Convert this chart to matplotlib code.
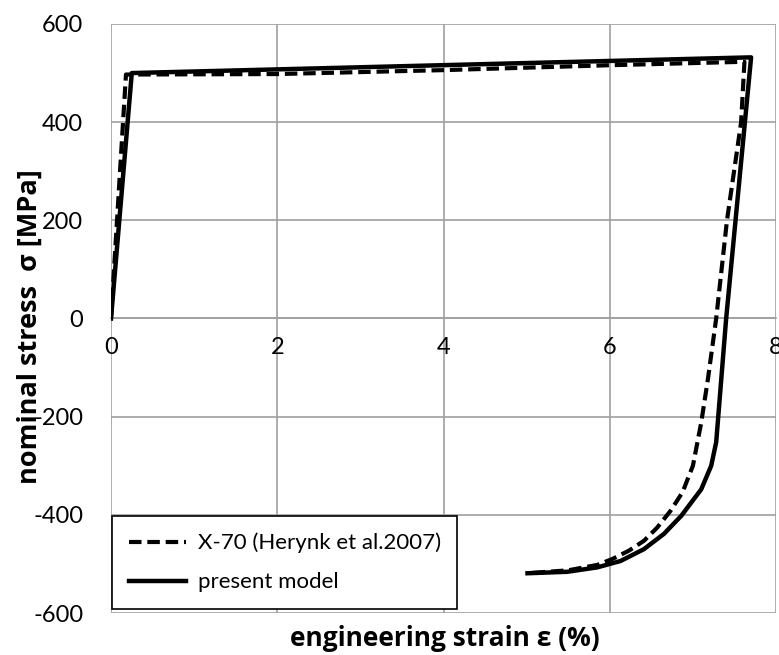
import matplotlib
matplotlib.use('Agg')
import matplotlib.pyplot as plt

plt.rcParams['font.family'] = ['Lato', 'DejaVu Sans']

# X-70 experiment (Herynk et al. 2007), dashed
exp_strain = [0, 0.18, 2.0, 4.0, 6.0, 7.62, 7.58, 7.41, 7.28, 7.18, 7.10, 7.00,
              6.875, 6.73, 6.57, 6.41, 6.23, 6.03, 5.85, 5.50, 5.01]
exp_stress = [0, 497, 498, 506, 516, 523, 400, 200, 0, -124, -212, -300,
              -354, -392, -426, -453, -473, -490, -502, -513, -519]

# present model, solid
mod_strain = [0, 0.25, 7.70, 7.40, 7.28, 7.22, 7.10, 6.86, 6.65, 6.41, 6.13,
              5.85, 5.49, 5.01]
mod_stress = [0, 500, 532, 0, -252, -300, -348, -402, -439, -470, -494,
              -507, -516, -519]

xticks = [0, 2, 4, 6, 8]
yticks = [-600, -400, -200, 0, 200, 400, 600]

fig = plt.figure(figsize=(7.79, 6.55), dpi=100)
ax = fig.add_axes([0.1425, 0.0641, 0.8537, 0.8993])

grid_col = '#a0a0a0'
ax.plot(exp_strain, exp_stress, color='black', lw=3, ls=(0, (3, 1.4)),
        label='X-70 (Herynk et al.2007)', zorder=3)
ax.plot(mod_strain, mod_stress, color='black', lw=3.2, solid_joinstyle='round',
        label='present model', zorder=4)

ax.set_xlim(0, 8)
ax.set_ylim(-600, 600)
ax.set_xticks(xticks)
ax.set_yticks(yticks)
ax.grid(True, color=grid_col, lw=1.2)
ax.set_axisbelow(True)

for s in ['top', 'right', 'left']:
    ax.spines[s].set_visible(False)
ax.spines['bottom'].set_position(('data', 0))
ax.spines['bottom'].set_color(grid_col)
ax.spines['bottom'].set_linewidth(1.2)
ax.tick_params(axis='both', length=0, labelsize=17)
ax.tick_params(axis='x', pad=13)
ax.tick_params(axis='y', pad=20)
ax.set_yticklabels([str(v) for v in yticks])

lab_family = ['Open Sans', 'DejaVu Sans']
fig.text(445 / 779, 1 - 639 / 655, 'engineering strain ε (%)', ha='center',
         va='center', family=lab_family, fontsize=19, fontweight='bold')
fig.text(30 / 779, 1 - 327 / 655, 'nominal stress  σ [MPa]', ha='center',
         va='center', rotation=90, family=lab_family, fontsize=19.5,
         fontweight='bold')

leg = ax.legend(loc='lower left', bbox_to_anchor=(0.0015, 0.0068),
                borderaxespad=0, fontsize=16, handlelength=2.6,
                handletextpad=0.5, labelspacing=0.85, borderpad=0.75,
                fancybox=False, framealpha=1)
leg.get_frame().set_edgecolor('black')
leg.get_frame().set_linewidth(1.2)

fig.savefig('out.png', dpi=100)
